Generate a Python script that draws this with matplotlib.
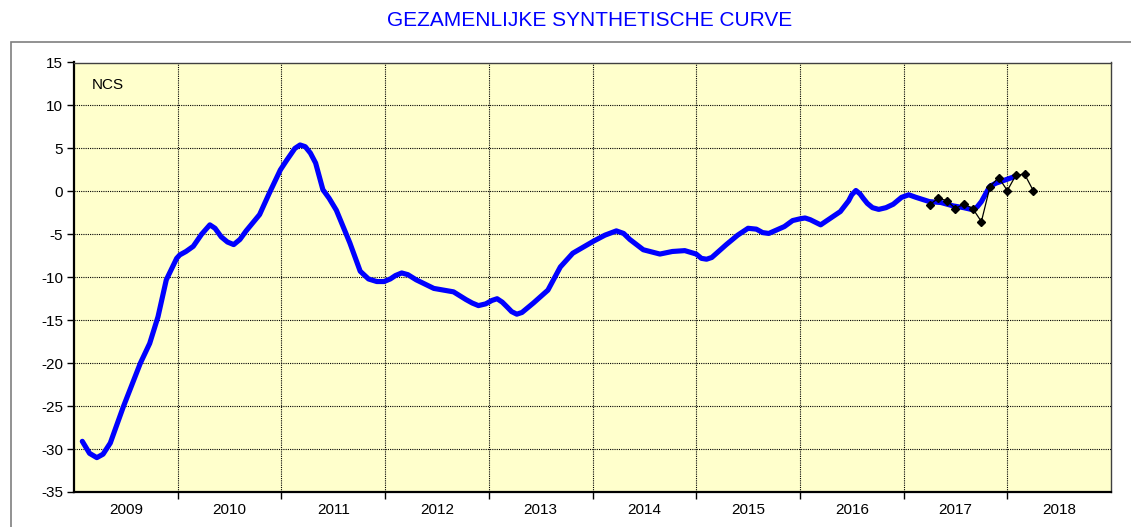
# Gezamenlijke synthetische curve (NCS)
import matplotlib.pyplot as plt
import matplotlib.ticker as mticker
from matplotlib.patches import Rectangle

plt.rcParams['font.family'] = ['Liberation Sans', 'DejaVu Sans']
plt.rcParams['axes.unicode_minus'] = False

# Afgevlakte curve (decimaal jaar, waarde)
curve_x = [2009.08, 2009.15, 2009.22, 2009.28, 2009.35, 2009.475, 2009.64, 2009.73,
           2009.81, 2009.89, 2009.99, 2010.02, 2010.08, 2010.15, 2010.23, 2010.31,
           2010.36, 2010.42, 2010.48, 2010.54, 2010.60, 2010.66, 2010.79, 2010.88,
           2010.99, 2011.05, 2011.09, 2011.13, 2011.18, 2011.23, 2011.28, 2011.33,
           2011.40, 2011.46, 2011.53, 2011.66, 2011.76, 2011.84, 2011.92, 2011.99,
           2012.05, 2012.10, 2012.16, 2012.22, 2012.30, 2012.47, 2012.66, 2012.78,
           2012.84, 2012.90, 2012.97, 2013.03, 2013.08, 2013.13, 2013.18, 2013.22,
           2013.27, 2013.32, 2013.43, 2013.57, 2013.69, 2013.81, 2014.01, 2014.12,
           2014.23, 2014.30, 2014.36, 2014.49, 2014.65, 2014.77, 2014.89, 2015.00,
           2015.05, 2015.10, 2015.15, 2015.29, 2015.40, 2015.50, 2015.58, 2015.64,
           2015.70, 2015.85, 2015.93, 2016.00, 2016.05, 2016.10, 2016.15, 2016.20,
           2016.39, 2016.47, 2016.50, 2016.54, 2016.58, 2016.61, 2016.65, 2016.70,
           2016.76, 2016.83, 2016.90, 2016.98, 2017.05, 2017.12, 2017.25, 2017.36,
           2017.48, 2017.58, 2017.67, 2017.71, 2017.75, 2017.83, 2017.89, 2017.95,
           2018.02, 2018.09]
curve_y = [-29.1, -30.5, -31.0, -30.6, -29.3, -25.1, -20.0, -17.7,
           -14.6, -10.3, -7.8, -7.4, -7.0, -6.4, -5.0, -3.9,
           -4.3, -5.3, -5.9, -6.2, -5.6, -4.6, -2.7, -0.3,
           2.5, 3.6, 4.3, 5.0, 5.4, 5.2, 4.45, 3.3,
           0.2, -0.8, -2.2, -6.0, -9.3, -10.2, -10.5, -10.5,
           -10.2, -9.8, -9.5, -9.7, -10.3, -11.3, -11.7, -12.6,
           -13.0, -13.3, -13.1, -12.7, -12.5, -12.9, -13.5, -14.0,
           -14.3, -14.1, -13.0, -11.5, -8.8, -7.2, -5.8, -5.1,
           -4.6, -4.9, -5.6, -6.8, -7.3, -7.0, -6.9, -7.3,
           -7.8, -7.9, -7.7, -6.2, -5.1, -4.3, -4.4, -4.8,
           -4.9, -4.1, -3.4, -3.2, -3.1, -3.3, -3.6, -3.9,
           -2.35, -1.1, -0.4, 0.1, -0.3, -0.8, -1.4, -1.9,
           -2.1, -1.9, -1.5, -0.7, -0.4, -0.7, -1.2, -1.3,
           -1.7, -1.9, -2.15, -1.8, -1.2, 0.56, 0.95, 1.2,
           1.5, 1.8]

# Maandwaarden april 2017 - april 2018
maand_jaar = [2017] * 9 + [2018] * 4
maand_nr = [4, 5, 6, 7, 8, 9, 10, 11, 12, 1, 2, 3, 4]
maand_y = [-1.57, -0.8, -1.07, -2.0, -1.46, -2.0, -3.52, 0.56, 1.61, 0.09, 1.89, 2.0, 0.09]
maand_x = [j + (m - 1) / 12 for j, m in zip(maand_jaar, maand_nr)]

jaren = list(range(2009, 2019))

fig = plt.figure(figsize=(11.31, 5.27), dpi=100)
fig.patches.append(Rectangle((11 / 1131, -0.1), 1.2, 1 - 42 / 527 + 0.1,
                             transform=fig.transFigure, fill=False,
                             edgecolor='#7f7f7f', linewidth=1.2))
ax = fig.add_axes([74 / 1131, 35 / 527, 1037 / 1131, 429.5 / 527])
ax.set_facecolor('#FFFFCC')

ax.plot(curve_x, curve_y, color='#0000FF', linewidth=3.7, solid_capstyle='round',
        solid_joinstyle='round', zorder=3)
ax.plot(maand_x, maand_y, color='black', linewidth=0.9, marker='D', markersize=4.5, zorder=4)

ax.set_xlim(2009, 2019)
ax.set_ylim(-35, 15)
ax.yaxis.set_major_locator(mticker.MultipleLocator(5))
ax.xaxis.set_major_locator(mticker.FixedLocator(jaren[1:]))
ax.xaxis.set_major_formatter(mticker.NullFormatter())
ax.xaxis.set_minor_locator(mticker.FixedLocator([j + 0.5 for j in jaren]))
ax.xaxis.set_minor_formatter(mticker.FixedFormatter([str(j) for j in jaren]))
ax.tick_params(axis='x', which='minor', length=0, labelsize=11, pad=8)
ax.tick_params(axis='x', which='major', length=5, width=1, direction='out')
ax.tick_params(axis='y', length=5, width=1, direction='out', labelsize=11, pad=3)
ax.grid(True, which='major', color='black', linestyle=(0, (1, 1)), linewidth=0.8)
ax.set_axisbelow(True)
for s in ['left', 'bottom']:
    ax.spines[s].set_linewidth(1.6)
for s in ['top', 'right']:
    ax.spines[s].set_linewidth(1.0)
    ax.spines[s].set_color('#404040')

ax.text(0.017, 0.965, 'NCS', transform=ax.transAxes, fontsize=11, va='top', ha='left')
fig.text(590 / 1131, 1 - 20 / 527, 'GEZAMENLIJKE SYNTHETISCHE CURVE', color='#0000FF',
         fontsize=15, ha='center', va='center')

plt.savefig('out.png', dpi=100)
plt.close(fig)
